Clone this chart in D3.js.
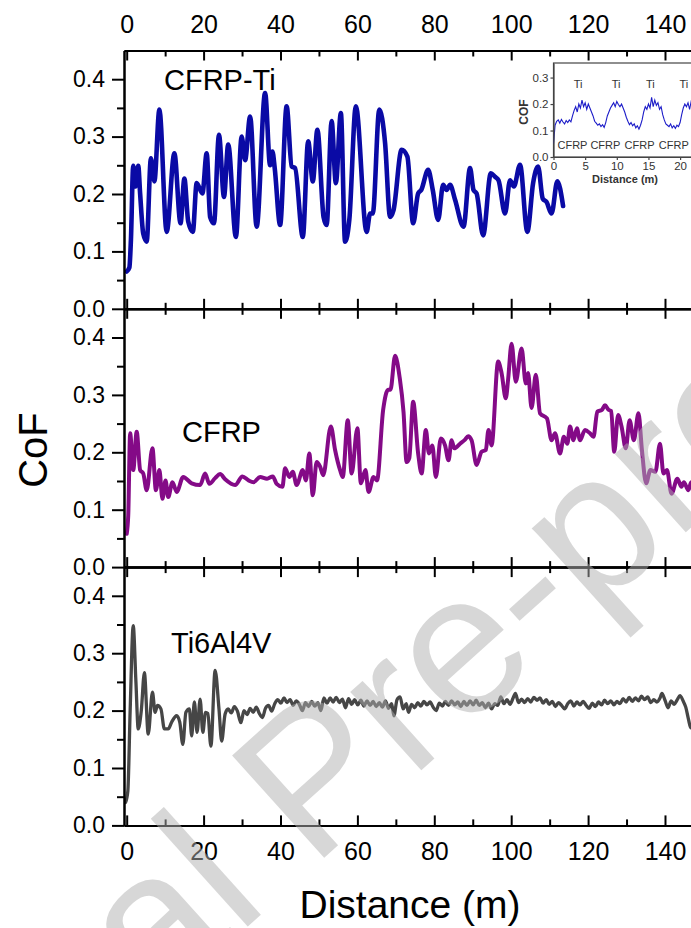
<!DOCTYPE html>
<html>
<head>
<meta charset="utf-8">
<script src="https://cdn.jsdelivr.net/npm/d3@7"></script>
<style>
  body { margin: 0; background: #fff; }
  svg { display: block; font-family: "Liberation Sans", Arial, sans-serif; }
</style>
</head>
<body>
<div id="chart"></div>
<script>
// distance (m), CoF
const cfrpTi = [[0,0.065],[0.7,0.072],[1.1,0.12],[1.7,0.249],[2.3,0.213],[3.0,0.249],[3.5,0.2],[4.3,0.131],[5.2,0.117],[6.3,0.262],[7.2,0.222],[8.5,0.347],[10.4,0.134],[12.4,0.271],[14.0,0.149],[15.0,0.227],[16.0,0.152],[17.2,0.134],[18.2,0.219],[19.7,0.201],[20.8,0.271],[21.7,0.16],[22.7,0.149],[24.0,0.303],[25.3,0.195],[26.4,0.286],[28.4,0.125],[29.9,0.3],[30.8,0.259],[32.1,0.335],[33.8,0.143],[36.0,0.376],[37.3,0.25],[37.9,0.274],[38.5,0.245],[39.9,0.146],[41.6,0.353],[42.9,0.248],[43.8,0.245],[45.8,0.125],[47.2,0.292],[48.4,0.222],[49.6,0.312],[51.2,0.16],[52.0,0.146],[53.3,0.327],[54.4,0.219],[55.7,0.341],[56.8,0.117],[57.9,0.155],[59.6,0.353],[62.4,0.134],[63.3,0.166],[64.0,0.166],[65.7,0.347],[67.2,0.289],[68.5,0.16],[69.4,0.172],[71.5,0.277],[73.0,0.265],[74.5,0.149],[75.8,0.201],[76.6,0.207],[78.4,0.242],[79.6,0.207],[81.0,0.155],[82.3,0.216],[83.2,0.207],[84.1,0.216],[85.4,0.19],[87.6,0.143],[89.3,0.245],[90.2,0.207],[91.0,0.201],[92.7,0.128],[94.7,0.236],[95.8,0.23],[96.7,0.224],[98.4,0.166],[99.7,0.224],[100.7,0.213],[102.3,0.251],[104.2,0.134],[105.7,0.219],[107.0,0.248],[108.2,0.192],[109.2,0.186],[110.5,0.166],[112.0,0.222],[113.5,0.179]];

const cfrp = [[0,0.058],[0.4,0.09],[0.9,0.233],[1.7,0.169],[2.6,0.236],[3.5,0.169],[4.3,0.163],[5.2,0.134],[6.7,0.207],[7.6,0.134],[8.5,0.169],[9.3,0.119],[10.1,0.151],[10.8,0.122],[11.9,0.148],[13.0,0.131],[14.7,0.157],[16.9,0.146],[19.1,0.143],[20.4,0.163],[21.5,0.145],[23.0,0.155],[24.3,0.162],[25.6,0.153],[28.2,0.143],[30.1,0.158],[31.7,0.151],[33.0,0.148],[34.7,0.157],[36.5,0.154],[38.0,0.158],[39.0,0.145],[40.5,0.14],[41.2,0.172],[42.3,0.157],[43.2,0.166],[44.2,0.143],[45.8,0.169],[46.6,0.151],[47.5,0.198],[48.4,0.125],[49.4,0.183],[50.3,0.175],[51.1,0.16],[53.1,0.245],[54.2,0.204],[55.5,0.169],[56.2,0.157],[57.5,0.256],[58.5,0.163],[60.0,0.242],[60.9,0.146],[62.1,0.169],[62.9,0.131],[64.2,0.157],[65.1,0.151],[66.7,0.274],[68.0,0.309],[68.6,0.309],[69.8,0.368],[71.0,0.33],[72.0,0.27],[72.8,0.183],[73.5,0.19],[74.5,0.288],[75.8,0.198],[76.7,0.163],[77.8,0.239],[78.6,0.198],[79.5,0.212],[80.4,0.157],[81.7,0.224],[82.8,0.212],[83.7,0.186],[84.5,0.221],[85.2,0.207],[86.7,0.215],[88.0,0.222],[88.8,0.228],[89.7,0.221],[91.0,0.178],[92.3,0.201],[93.4,0.204],[94.1,0.239],[94.9,0.212],[96.6,0.358],[97.5,0.338],[98.6,0.294],[99.2,0.327],[100.1,0.389],[101.2,0.323],[102.7,0.381],[103.8,0.32],[104.4,0.338],[105.3,0.277],[106.4,0.335],[107.5,0.268],[109.3,0.259],[110.5,0.221],[111.4,0.233],[112.7,0.198],[113.7,0.227],[114.6,0.215],[115.3,0.245],[116.2,0.221],[117.1,0.242],[117.9,0.221],[119.2,0.239],[120.5,0.233],[121.4,0.227],[122.4,0.271],[123.6,0.274],[124.4,0.282],[125.3,0.274],[126.0,0.272],[126.8,0.201],[127.8,0.265],[128.7,0.245],[129.8,0.207],[130.8,0.256],[131.9,0.221],[133.1,0.268],[134.0,0.204],[135.1,0.146],[136.2,0.169],[137.5,0.166],[138.7,0.215],[139.6,0.163],[140.5,0.169],[141.7,0.128],[143.2,0.154],[144.3,0.14],[144.9,0.148],[146.1,0.134],[146.8,0.148],[148.0,0.14],[150.0,0.145]];

const ti6al4v = [[-0.3,0.04],[0.3,0.06],[0.9,0.2],[1.7,0.348],[2.4,0.25],[3.0,0.168],[3.8,0.2],[4.6,0.266],[5.6,0.159],[6.7,0.232],[7.4,0.197],[8.0,0.209],[8.9,0.203],[9.8,0.168],[10.8,0.168],[11.7,0.18],[13.0,0.191],[13.8,0.18],[14.6,0.141],[15.4,0.197],[16.3,0.203],[16.9,0.156],[17.6,0.215],[18.3,0.162],[19.1,0.22],[19.8,0.162],[20.5,0.197],[21.1,0.195],[21.9,0.138],[23.0,0.27],[24.0,0.203],[24.7,0.147],
  [25.6,0.194],[26.4,0.203],[27.2,0.196],[28.0,0.207],[28.8,0.199],[29.7,0.179],[30.5,0.2],[31.3,0.193],[32.1,0.204],[32.9,0.197],[33.7,0.206],[34.5,0.195],[35.3,0.188],[36.1,0.204],[36.9,0.209],[37.7,0.199],[38.5,0.212],[39.3,0.219],[40.1,0.213],[40.9,0.222],[41.7,0.214],[42.5,0.219],[43.3,0.209],[44.1,0.217],[44.9,0.211],[45.7,0.2],[46.5,0.214],[47.3,0.207],[48.1,0.216],[48.9,0.208],[49.7,0.214],[50.5,0.2],[51.3,0.222],[52.1,0.213],[52.9,0.222],[53.7,0.215],[54.5,0.223],[55.3,0.214],[56.1,0.22],[56.9,0.205],[57.7,0.221],[58.5,0.211],[59.3,0.219],[60.1,0.21],[60.9,0.218],[61.7,0.208],[62.5,0.217],[63.3,0.209],[64.1,0.216],[64.9,0.207],[65.7,0.214],[66.5,0.206],[67.3,0.217],[68.1,0.204],[68.9,0.212],[69.5,0.191],[70.3,0.219],[71.1,0.224],[71.9,0.203],[72.7,0.212],[73.3,0.197],[74.1,0.211],[74.9,0.205],[75.7,0.214],[76.5,0.208],[77.3,0.216],[78.1,0.21],[78.9,0.215],[79.7,0.206],[80.5,0.2],[81.3,0.213],[82.1,0.208],[82.9,0.216],[83.7,0.209],[84.5,0.217],[85.3,0.21],[86.1,0.215],[86.9,0.207],[87.7,0.216],[88.5,0.209],[89.3,0.217],[90.1,0.21],[90.9,0.218],[91.7,0.209],[92.5,0.214],[93.3,0.205],[94.1,0.213],[94.9,0.203],[95.7,0.212],[96.5,0.209],[97.3,0.224],[98.1,0.212],[98.9,0.219],[99.7,0.211],[100.5,0.222],[101.1,0.23],[101.9,0.214],[102.7,0.22],[103.5,0.214],[104.3,0.221],[105.1,0.215],[105.9,0.223],[106.7,0.218],[107.5,0.222],[108.3,0.213],[109.1,0.219],[109.9,0.211],[110.7,0.216],[111.5,0.207],[112.3,0.214],[113.1,0.209],[113.9,0.203],[114.7,0.212],[115.5,0.217],[116.3,0.208],[117.1,0.215],[117.9,0.21],[118.7,0.216],[119.5,0.209],[120.3,0.204],[121.1,0.213],[121.9,0.207],[122.7,0.215],[123.5,0.21],[124.3,0.218],[125.1,0.212],[125.9,0.217],[126.7,0.21],[127.5,0.216],[128.3,0.212],[129.1,0.221],[129.9,0.215],[130.7,0.223],[131.5,0.216],[132.3,0.222],[133.1,0.217],[133.9,0.225],[134.7,0.219],[135.5,0.224],[136.3,0.214],[137.1,0.219],[137.9,0.215],[138.7,0.222],[139.2,0.23],[140.0,0.218],[140.8,0.205],[141.6,0.217],[142.4,0.211],[143.2,0.219],[143.9,0.226],[144.7,0.217],[145.4,0.206],[146.1,0.185],[146.7,0.17],[150.0,0.17]];

// inset: CFRP/Ti stack, every 0.25 m
const insetDist = d3.range(0, 24, 0.25);
const insetCof = [0.05,0.12,0.135,0.14,0.128,0.142,0.132,0.125,0.138,0.13,0.14,0.133,0.155,0.175,0.19,0.17,0.2,0.185,0.215,0.19,0.205,0.18,0.2,0.185,0.17,0.155,0.135,0.128,0.12,0.125,0.115,0.122,0.112,0.13,0.155,0.17,0.185,0.195,0.205,0.19,0.21,0.198,0.19,0.2,0.185,0.17,0.15,0.135,0.122,0.13,0.118,0.125,0.11,0.118,0.105,0.12,0.14,0.17,0.19,0.18,0.2,0.185,0.225,0.19,0.215,0.195,0.205,0.18,0.19,0.16,0.14,0.125,0.12,0.115,0.125,0.11,0.118,0.108,0.12,0.115,0.13,0.16,0.185,0.2,0.19,0.205,0.18,0.21,0.195,0.2,0.19,0.205,0.195,0.2,0.19,0.2];
const insetTiAt = [3.9, 9.9, 15.3, 20.6];
const insetCfrpAt = [3.0, 8.2, 13.6, 19.0];

const xTicks = [0, 20, 40, 60, 80, 100, 120, 140];
const xMinor = [10, 30, 50, 70, 90, 110, 130, 150];
const yTicks = [0, 0.1, 0.2, 0.3, 0.4];
const yMinor = [0.05, 0.15, 0.25, 0.35];
const insetXTicks = [0, 5, 10, 15, 20];
const insetYTicks = [0, 0.1, 0.2, 0.3];

const W = 691, H = 928;
const left = 124, top0 = 50.5, panelH = 258.3;

const svg = d3.select("#chart").append("svg")
  .attr("width", W).attr("height", H);

const x = d3.scaleLinear().domain([-0.7, 152]).range([left, left + 152.7 * 3.845]);

const panels = [
  { name: "CFRP-Ti", data: cfrpTi, color: "#0a0aa5", width: 4.6, lx: 164, ly: 90 },
  { name: "CFRP", data: cfrp, color: "#840a87", width: 4, lx: 182, ly: 442 },
  { name: "Ti6Al4V", data: ti6al4v, color: "#464646", width: 3.3, lx: 171, ly: 653 }
];

function styleAxis(g, size) {
  g.selectAll("path, line").attr("stroke", "#000").attr("stroke-width", 2);
  g.selectAll("text").attr("fill", "#000").attr("font-size", size).attr("font-family", "Liberation Sans, Arial, sans-serif");
}

panels.forEach((p, i) => {
  const top = top0 + i * panelH;
  const y = d3.scaleLinear().domain([0, 0.45]).range([top + panelH, top]);

  svg.append("clipPath").attr("id", "clip" + i)
    .append("rect").attr("x", left).attr("y", top).attr("width", W - left).attr("height", panelH);

  const line = d3.line().x(d => x(d[0])).y(d => y(d[1])).curve(d3.curveMonotoneX);
  svg.append("path").datum(p.data)
    .attr("clip-path", `url(#clip${i})`)
    .attr("fill", "none")
    .attr("stroke", p.color)
    .attr("stroke-width", p.width)
    .attr("stroke-linejoin", "round")
    .attr("stroke-linecap", "round")
    .attr("d", line);

  svg.append("text").attr("x", p.lx).attr("y", p.ly)
    .attr("font-size", 29).attr("fill", "#000").text(p.name);

  // left axis
  const ly = svg.append("g").attr("transform", `translate(${left},0)`)
    .call(d3.axisLeft(y).tickValues(yTicks).tickSize(12).tickSizeOuter(0).tickPadding(7).tickFormat(d3.format(".1f")));
  styleAxis(ly, 23);
  const lym = svg.append("g").attr("transform", `translate(${left},0)`)
    .call(d3.axisLeft(y).tickValues(yMinor).tickSize(7).tickSizeOuter(0).tickFormat(""));
  styleAxis(lym, 1);

  // top edge, ticks inward
  const tx = svg.append("g").attr("transform", `translate(0,${top})`)
    .call(d3.axisTop(x).tickValues(xTicks).tickSize(-10).tickSizeOuter(0).tickPadding(18)
      .tickFormat(i === 0 ? d3.format("d") : ""));
  styleAxis(tx, 25);
  const txm = svg.append("g").attr("transform", `translate(0,${top})`)
    .call(d3.axisTop(x).tickValues(xMinor).tickSize(-6).tickSizeOuter(0).tickFormat(""));
  styleAxis(txm, 1);

  // bottom edge, ticks inward
  const bx = svg.append("g").attr("transform", `translate(0,${top + panelH})`)
    .call(d3.axisBottom(x).tickValues(xTicks).tickSize(-10).tickSizeOuter(0).tickPadding(17)
      .tickFormat(i === 2 ? d3.format("d") : ""));
  styleAxis(bx, 25);
  const bxm = svg.append("g").attr("transform", `translate(0,${top + panelH})`)
    .call(d3.axisBottom(x).tickValues(xMinor).tickSize(-6).tickSizeOuter(0).tickFormat(""));
  styleAxis(bxm, 1);
});

// axis titles
svg.append("text")
  .attr("transform", "translate(47,450) rotate(-90)")
  .attr("text-anchor", "middle").attr("font-size", 40).attr("fill", "#000")
  .text("CoF");
svg.append("text")
  .attr("x", 410).attr("y", 918)
  .attr("text-anchor", "middle").attr("font-size", 39).attr("fill", "#000")
  .text("Distance (m)");

// inset
const ix = d3.scaleLinear().domain([0, 23.7]).range([553.5, 553.5 + 23.7 * 6.33]);
const iy = d3.scaleLinear().domain([0, 0.355]).range([157, 63]);
const inset = svg.append("g");
inset.append("rect").attr("x", 553.5).attr("y", 63).attr("width", 200).attr("height", 94)
  .attr("fill", "#fff").attr("stroke", "#444").attr("stroke-width", 1.2);
svg.append("clipPath").attr("id", "clipInset")
  .append("rect").attr("x", 553.5).attr("y", 63).attr("width", 200).attr("height", 94);
inset.append("path")
  .datum(insetDist.map((d, k) => [d, insetCof[k]]))
  .attr("clip-path", "url(#clipInset)")
  .attr("fill", "none").attr("stroke", "#1c1cc8").attr("stroke-width", 1.1)
  .attr("d", d3.line().x(d => ix(d[0])).y(d => iy(d[1])));
const iax = inset.append("g").attr("transform", "translate(0,157)")
  .call(d3.axisBottom(ix).tickValues(insetXTicks).tickSize(3).tickSizeOuter(0).tickPadding(2));
const iay = inset.append("g").attr("transform", "translate(553.5,0)")
  .call(d3.axisLeft(iy).tickValues(insetYTicks).tickSize(3).tickSizeOuter(0).tickPadding(2).tickFormat(d3.format(".1f")));
[iax, iay].forEach(g => {
  g.selectAll("path, line").attr("stroke", "#444").attr("stroke-width", 1.2);
  g.selectAll("text").attr("fill", "#333").attr("font-size", 11.5);
});
inset.selectAll("text.ti").data(insetTiAt).join("text")
  .attr("class", "ti")
  .attr("x", d => ix(d)).attr("y", iy(0.262))
  .attr("text-anchor", "middle").attr("font-size", 11).attr("fill", "#333").text("Ti");
inset.selectAll("text.cf").data(insetCfrpAt).join("text")
  .attr("class", "cf")
  .attr("x", d => ix(d)).attr("y", iy(0.03))
  .attr("text-anchor", "middle").attr("font-size", 11).attr("fill", "#333").text("CFRP");
inset.append("text")
  .attr("transform", "translate(528,112) rotate(-90)")
  .attr("text-anchor", "middle").attr("font-size", 12).attr("font-weight", "bold").attr("fill", "#333")
  .text("COF");
inset.append("text")
  .attr("x", 625).attr("y", 183)
  .attr("text-anchor", "middle").attr("font-size", 11).attr("font-weight", "bold").attr("fill", "#333")
  .text("Distance (m)");

// watermark
const wm = svg.append("text")
  .attr("transform", "translate(155,1010) rotate(-42)")
  .attr("font-size", 200).attr("fill", "#b0b0b0").attr("opacity", 0.5)
  .text("Journal Pre-proof");
wm.attr("x", -wm.node().getSubStringLength(0, 5));
</script>
</body>
</html>
